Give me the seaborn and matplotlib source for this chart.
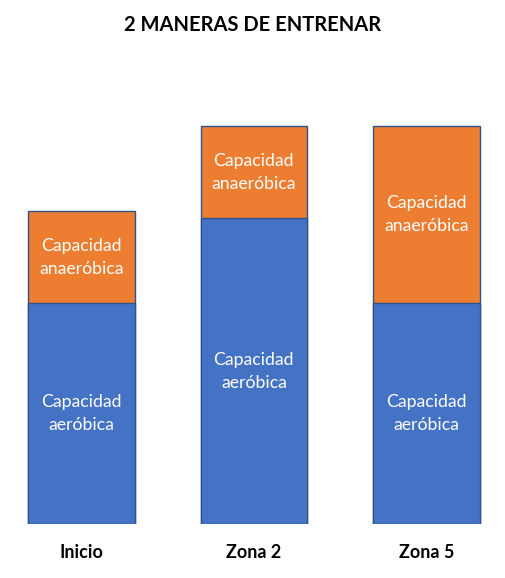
import numpy as np
import matplotlib
matplotlib.use("Agg")
import matplotlib.pyplot as plt
import seaborn as sns

# values (arbitrary units)
categorias = ["Inicio", "Zona 2", "Zona 5"]
aerobica = [60, 83, 60]
anaerobica = [25, 25, 48]
etiqueta_aer = "Capacidad\naeróbica"
etiqueta_anaer = "Capacidad\nanaeróbica"
titulo = "2 MANERAS DE ENTRENAR"

AZUL = "#4472C4"
NARANJA = "#ED7D31"
BORDE = "#2F528F"

sns.set_style("white")
plt.rcParams["font.family"] = ["Lato", "DejaVu Sans"]

totales = np.array(aerobica) + np.array(anaerobica)

fig = plt.figure(figsize=(5.06, 5.78), dpi=100)
ax = fig.add_axes([0, 0.0926, 1, 0.7344])

# orange drawn as full totals, blue laid over the lower part
sns.barplot(x=categorias, y=totales, color=NARANJA, saturation=1, width=0.617,
            edgecolor=BORDE, linewidth=1, ax=ax)
sns.barplot(x=categorias, y=aerobica, color=AZUL, saturation=1, width=0.617,
            edgecolor=BORDE, linewidth=1, ax=ax)

for i in range(len(categorias)):
    ax.text(i, aerobica[i] / 2, etiqueta_aer, ha="center", va="center",
            color="white", fontsize=12.7, linespacing=1.55)
    ax.text(i, aerobica[i] + anaerobica[i] / 2, etiqueta_anaer, ha="center",
            va="center", color="white", fontsize=12.7, linespacing=1.55)

ax.set_xlim(-0.471, 2.461)
ax.set_ylim(0, 115.1)
sns.despine(ax=ax, left=True, bottom=True)
ax.set_yticks([])
ax.tick_params(axis="x", length=0, pad=14)
for lab in ax.get_xticklabels():
    lab.set_fontweight("bold")
    lab.set_fontsize(13)
    lab.set_color("black")
ax.set_xlabel("")
ax.set_ylabel("")

fig.text(0.5, 1 - 25 / 578, titulo, ha="center", va="center",
         fontsize=14.5, fontweight="bold", color="black")

fig.savefig("out.png", dpi=100)
